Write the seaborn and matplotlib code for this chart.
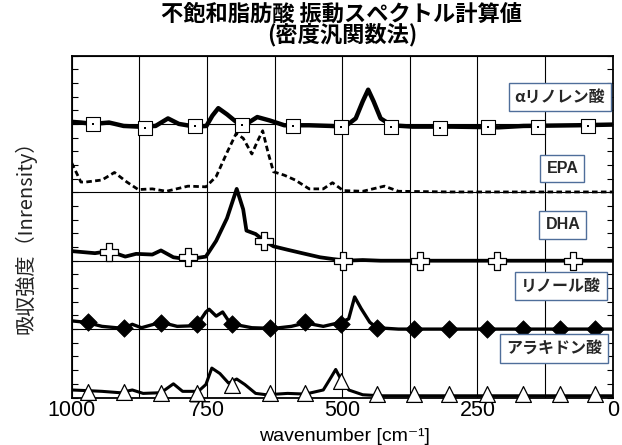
import numpy as np
import pandas as pd
import matplotlib
matplotlib.use("Agg")
import matplotlib.pyplot as plt
import seaborn as sns
from matplotlib.ticker import MultipleLocator

# ---------------- data ----------------
title_text = "不飽和脂肪酸 振動スペクトル計算値\n(密度汎関数法)"
ylabel_text = "吸収強度（Inrensity）"
xlabel_text = "wavenumber [cm⁻¹]"
xtick_vals = [1000, 750, 500, 250, 0]
series_names = ["αリノレン酸", "EPA", "DHA", "リノール酸", "アラキドン酸"]

# α-linolenic acid (offset 4)
ala_w = [1000, 983, 960, 931, 904, 877, 845, 822, 802, 772, 751, 740, 729, 713, 696, 673, 657,
         634, 607, 561, 521, 495, 475, 462, 452, 442, 429, 409, 370, 297, 211, 165, 66, 0]
ala_y = [4.03, 4.02, 4.00, 4.02, 3.97, 3.96, 3.97, 4.08, 4.00, 3.96, 3.97, 4.12, 4.23, 4.14, 4.03, 4.02, 4.10,
         4.05, 3.98, 3.98, 3.97, 3.96, 4.08, 4.33, 4.50, 4.33, 4.08, 3.98, 3.96, 3.96, 3.95, 3.97, 3.98, 3.99]
ala_mw = [960, 865, 772, 686, 591, 502, 409, 320, 231, 139, 46]
ala_my = [4.00, 3.94, 3.97, 3.99, 3.97, 3.95, 3.96, 3.94, 3.95, 3.95, 3.97]

# EPA (offset 3)
epa_w = [1000, 983, 974, 944, 921, 898, 877, 851, 825, 785, 752, 733, 713, 696, 683, 667, 657, 647,
         637, 627, 607, 587, 561, 535, 518, 498, 462, 422, 396, 300, 200, 100, 0]
epa_y = [3.43, 3.15, 3.15, 3.18, 3.29, 3.15, 3.04, 3.05, 3.015, 3.09, 3.08, 3.23, 3.58, 3.86, 3.79, 3.56, 3.74, 3.90,
         3.58, 3.30, 3.25, 3.18, 3.05, 3.05, 3.14, 3.025, 3.015, 3.09, 3.015, 3.005, 3.005, 3.005, 3.005]

# DHA (offset 2)
dha_w = [1000, 957, 931, 901, 881, 851, 835, 812, 785, 752, 733, 713, 695, 683, 677, 660, 644,
         627, 601, 574, 541, 495, 462, 429, 300, 200, 100, 0]
dha_y = [2.14, 2.11, 2.14, 2.06, 2.10, 2.09, 2.15, 2.05, 2.02, 2.06, 2.29, 2.62, 3.05, 2.75, 2.44, 2.39, 2.29,
         2.21, 2.16, 2.11, 2.05, 2.00, 2.01, 2.00, 2.00, 2.00, 2.00, 2.00]
dha_mw = [931, 785, 644, 498, 356, 214, 73]
dha_my = [2.13, 2.06, 2.29, 2.00, 2.00, 2.00, 2.00]

# linoleic acid (offset 1)
lin_w = [1000, 974, 944, 904, 888, 871, 835, 805, 769, 752, 746, 733, 721, 710, 700, 667, 627,
         594, 568, 535, 502, 488, 477, 465, 449, 436, 396, 300, 200, 100, 0]
lin_y = [1.12, 1.10, 1.04, 1.01, 1.07, 1.02, 1.10, 1.04, 1.05, 1.25, 1.29, 1.19, 1.25, 1.12, 1.07, 1.02, 1.01,
         1.04, 1.09, 1.04, 1.10, 1.15, 1.47, 1.30, 1.10, 1.02, 1.00, 1.00, 1.00, 1.00, 1.00]
lin_mw = [970, 904, 835, 769, 703, 634, 568, 502, 436, 368, 302, 233, 165, 97, 33]
lin_my = [1.10, 1.01, 1.09, 1.07, 1.07, 1.01, 1.10, 1.07, 1.01, 1.00, 1.00, 1.00, 1.00, 1.00, 1.00]

# arachidonic acid (offset ~0)
ara_w = [1000, 970, 944, 911, 888, 868, 835, 812, 795, 766, 752, 741, 726, 710, 695, 680, 660,
         640, 601, 568, 535, 521, 512, 502, 488, 462, 429, 300, 200, 100, 0]
ara_y = [0.11, 0.10, 0.09, 0.07, 0.11, 0.06, 0.07, 0.20, 0.09, 0.09, 0.19, 0.43, 0.35, 0.21, 0.27, 0.19, 0.06,
         0.04, 0.06, 0.05, 0.11, 0.29, 0.41, 0.26, 0.11, 0.04, 0.025, 0.025, 0.025, 0.025, 0.025]
ara_mw = [970, 904, 835, 769, 703, 634, 568, 502, 436, 368, 302, 233, 165, 97, 33]
ara_my = [0.08, 0.08, 0.07, 0.07, 0.19, 0.06, 0.06, 0.24, 0.05, 0.05, 0.05, 0.05, 0.05, 0.05, 0.05]

# ---------------- style ----------------
sns.set_theme(style="ticks")
plt.rcParams["font.family"] = ["Liberation Sans", "Noto Sans CJK JP", "DejaVu Sans"]
CJK = ["Noto Sans CJK JP", "DejaVu Sans"]

W, H = 622, 445
fig = plt.figure(figsize=(W / 100, H / 100), dpi=100)
ax = fig.add_axes([71.7 / W, 1 - 397.5 / H, 541 / W, 342 / H])

def curve(w, y):
    return pd.DataFrame({"w": w, "y": y})

sns.lineplot(data=curve(ala_w, ala_y), x="w", y="y", sort=False, estimator=None,
             color="black", lw=3.2, ax=ax, zorder=3)
sns.lineplot(data=curve(epa_w, epa_y), x="w", y="y", sort=False, estimator=None,
             color="black", lw=2.0, ax=ax, zorder=3, dashes=False, linestyle=(0, (2.0, 1.2)))
sns.lineplot(data=curve(dha_w, dha_y), x="w", y="y", sort=False, estimator=None,
             color="black", lw=2.7, ax=ax, zorder=3)
sns.lineplot(data=curve(lin_w, lin_y), x="w", y="y", sort=False, estimator=None,
             color="black", lw=2.4, ax=ax, zorder=3)
sns.lineplot(data=curve(ara_w, ara_y), x="w", y="y", sort=False, estimator=None,
             color="black", lw=2.2, ax=ax, zorder=3)

# markers
sns.scatterplot(x=ala_mw, y=ala_my, marker="s", s=90, facecolor="white", edgecolor="black",
                linewidth=0.8, ax=ax, zorder=4)
sns.scatterplot(x=ala_mw, y=ala_my, marker="s", s=3, facecolor="black", edgecolor="black",
                linewidth=0, ax=ax, zorder=5)
sns.scatterplot(x=dha_mw, y=dha_my, marker="P", s=160, facecolor="white", edgecolor="black",
                linewidth=0.9, ax=ax, zorder=4)
sns.scatterplot(x=lin_mw, y=lin_my, marker="D", s=80, facecolor="black", edgecolor="black",
                linewidth=0.5, ax=ax, zorder=4)
sns.scatterplot(x=ara_mw, y=ara_my, marker="^", s=130, facecolor="white", edgecolor="black",
                linewidth=0.9, ax=ax, zorder=4, clip_on=False)

# axes
ax.set_xlim(1000, 0)
ax.set_ylim(0, 5)
ax.set_xticks(xtick_vals)
ax.set_xticklabels([str(v) for v in xtick_vals])
ax.xaxis.set_minor_locator(MultipleLocator(125))
ax.yaxis.set_major_locator(MultipleLocator(1))
ax.yaxis.set_minor_locator(MultipleLocator(0.2))
ax.set_yticklabels([])
ax.tick_params(axis="x", which="both", length=0, labelsize=15.5, pad=1.5, colors="black")
ax.tick_params(axis="y", which="both", direction="in", left=True, right=True, length=4,
               width=0.8, colors="black")
ax.grid(True, which="both", axis="x", color="black", lw=0.8)
ax.grid(True, which="major", axis="y", color="black", lw=0.8)
for s in ax.spines.values():
    s.set_color("black")
    s.set_linewidth(1.3)
    s.set_visible(True)
ax.set_xlabel("")
ax.set_ylabel("")

fig.text(344 / W, 1 - 440.6 / H, xlabel_text, ha="center", va="baseline", fontsize=14,
         family=["Liberation Sans", "DejaVu Sans"], color="black")
fig.text(25 / W, 1 - 232 / H, ylabel_text, rotation=90,
         ha="center", va="center", fontsize=14.5, family=CJK, color="#222222")
fig.text(342 / W, 1 - 25 / H, title_text, ha="center", va="center", fontsize=16,
         fontweight="bold", family=CJK, linespacing=0.85, color="black")

# series labels
label_pos = [(0.9025, 0.8795), (0.907, 0.6696), (0.908, 0.5044), (0.9045, 0.326), (0.8915, 0.1433)]
for name, (lx, ly) in zip(series_names, label_pos):
    ax.text(lx, ly, name, transform=ax.transAxes, ha="center", va="center", fontsize=11.5,
            fontweight="bold", family=["Liberation Sans", "Noto Sans CJK JP"] if name in ("EPA", "DHA") else CJK,
            zorder=6,
            bbox=dict(boxstyle="square,pad=0.38", facecolor="white", edgecolor="#4F6E9A", linewidth=1.0))

fig.savefig("out.png", dpi=100, facecolor="white")
